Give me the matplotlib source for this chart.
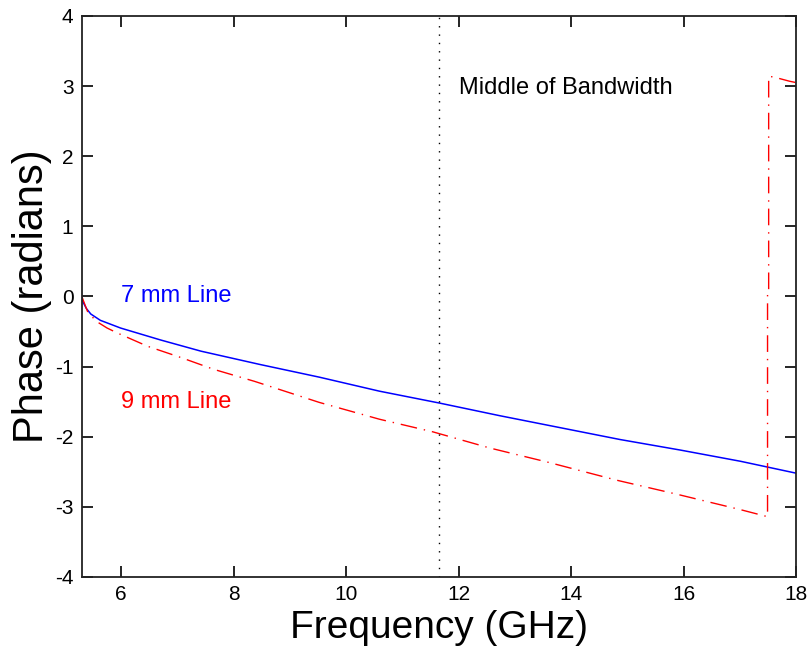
import numpy as np
import matplotlib
matplotlib.use("Agg")
import matplotlib.pyplot as plt

plt.rcParams['font.family'] = ['Liberation Sans', 'DejaVu Sans']
plt.rcParams['axes.unicode_minus'] = False

# phase
freq_7mm = [5.3, 5.31, 5.38, 5.46, 5.63, 5.99, 6.70, 7.42, 8.47, 9.52, 10.59,
            11.66, 12.73, 13.80, 14.87, 15.94, 17.01, 18.0]
phase_7mm = [0.0, -0.06, -0.17, -0.25, -0.34, -0.45, -0.62, -0.78, -0.97,
             -1.15, -1.35, -1.52, -1.70, -1.87, -2.04, -2.19, -2.35, -2.52]

freq_9mm = [5.3, 5.40, 5.55, 5.75, 5.93, 6.47, 7.06, 7.65, 8.37, 9.52, 10.59,
            11.54, 12.55, 13.62, 14.81, 15.88, 17.01, 17.49, 17.49, 17.51,
            17.51, 17.6, 17.88, 18.0]
phase_9mm = [0.0, -0.21, -0.35, -0.45, -0.52, -0.71, -0.87, -1.04, -1.21,
             -1.51, -1.75, -1.93, -2.16, -2.37, -2.62, -2.82, -3.04, -3.14,
             0.1, 0.1, 3.14, 3.13, 3.07, 3.05]

f_min, f_max = 5.3, 18.0
f_mid = (f_min + f_max) / 2

fig = plt.figure(figsize=(8.1, 6.53), dpi=100)
ax = fig.add_axes([0.101, 0.1164, 0.882, 0.8591])

ax.plot(freq_7mm, phase_7mm, color=(0, 0, 1), lw=1.1)
ax.plot(freq_9mm, phase_9mm, color=(1, 0, 0), lw=1.0,
        linestyle=(0, (12, 5, 1, 5)))
ax.axvline(f_mid, color='k', lw=1.0, linestyle=(0, (1, 5)))

ax.text(12.0, 2.97, "Middle of Bandwidth", fontsize=17, va='center', ha='left')
ax.text(6.0, 0.0, "7 mm Line", fontsize=17, va='center', ha='left', color=(0, 0, 1))
ax.text(6.0, -1.51, "9 mm Line", fontsize=17, va='center', ha='left', color=(1, 0, 0))

ax.set_xlim(f_min, f_max)
ax.set_ylim(-4, 4)
ax.set_xticks([6, 8, 10, 12, 14, 16, 18])
ax.set_yticks(np.arange(-4, 5, 1))
ax.tick_params(direction='in', length=8, width=1.2, top=True, right=True,
               labelsize=15, pad=6)
for s in ax.spines.values():
    s.set_linewidth(1.3)
    s.set_color('#222222')

ax.set_xlabel("Frequency (GHz)", fontsize=28, labelpad=4)
ax.set_ylabel("Phase (radians)", fontsize=30, labelpad=2)

fig.savefig("out.png", dpi=100)
